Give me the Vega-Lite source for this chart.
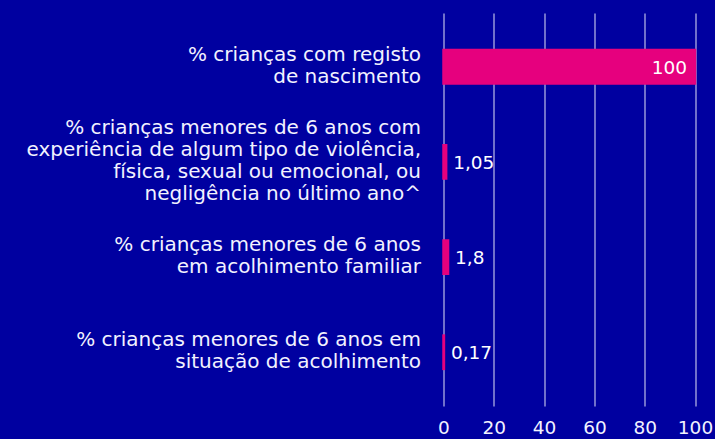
{
  "$schema": "https://vega.github.io/schema/vega-lite/v6.json",
  "autosize": "none",
  "padding": {"left": 443.5, "top": 13, "right": 20, "bottom": 33},
  "width": 251.5,
  "height": 393,
  "background": "#0000a0",
  "config": {
    "view": {"stroke": null},
    "font": "DejaVu Sans",
    "locale": {"number": {"decimal": ",", "thousands": ".", "grouping": [3], "currency": ["", " €"]}}
  },
  "data": {
    "values": [
      {"indicador": "% crianças com registo|de nascimento", "valor": 100},
      {"indicador": "% crianças menores de 6 anos com|experiência de algum tipo de violência,|física, sexual ou emocional, ou|negligência no último ano^", "valor": 1.05},
      {"indicador": "% crianças menores de 6 anos|em acolhimento familiar", "valor": 1.8},
      {"indicador": "% crianças menores de 6 anos em|situação de acolhimento", "valor": 0.17}
    ]
  },
  "encoding": {
    "y": {
      "field": "indicador",
      "type": "nominal",
      "sort": null,
      "scale": {"paddingInner": 0.65, "paddingOuter": 0.39},
      "axis": {
        "title": null,
        "ticks": false,
        "domain": false,
        "labelExpr": "split(datum.value, '|')",
        "labelAlign": "right",
        "labelBaseline": "middle",
        "labelOffset": {"expr": "-(length(split(datum.value, '|')) - 1) * 11 - 1"},
        "labelPadding": 23,
        "labelLimit": 450,
        "labelFontSize": 20,
        "labelLineHeight": 22,
        "labelColor": "#f2f2ff",
        "labelFont": "DejaVu Sans"
      }
    },
    "x": {
      "field": "valor",
      "type": "quantitative",
      "scale": {"domain": [0, 100], "nice": false},
      "axis": {
        "title": null,
        "values": [0, 20, 40, 60, 80, 100],
        "grid": true,
        "gridColor": "#bcbce8",
        "gridWidth": 1.2,
        "ticks": false,
        "domain": false,
        "labelPadding": 12,
        "labelFontSize": 18.5,
        "labelColor": "#f2f2ff",
        "labelFont": "DejaVu Sans",
        "labelFlush": false
      }
    }
  },
  "layer": [
    {
      "mark": {"type": "bar", "color": "#e6007e", "stroke": "#e6007e", "strokeWidth": 2.5}
    },
    {
      "transform": [{"filter": "datum.valor >= 50"}],
      "mark": {"type": "text", "align": "right", "baseline": "middle", "dx": -8, "dy": 1, "fontSize": 18.5, "color": "#ffffff", "font": "DejaVu Sans"},
      "encoding": {"text": {"field": "valor", "type": "quantitative", "format": ".2~f"}}
    },
    {
      "transform": [{"filter": "datum.valor < 50"}],
      "mark": {"type": "text", "align": "left", "baseline": "middle", "dx": 7, "dy": 1, "fontSize": 18.5, "color": "#ffffff", "font": "DejaVu Sans"},
      "encoding": {"text": {"field": "valor", "type": "quantitative", "format": ".2~f"}}
    }
  ]
}
